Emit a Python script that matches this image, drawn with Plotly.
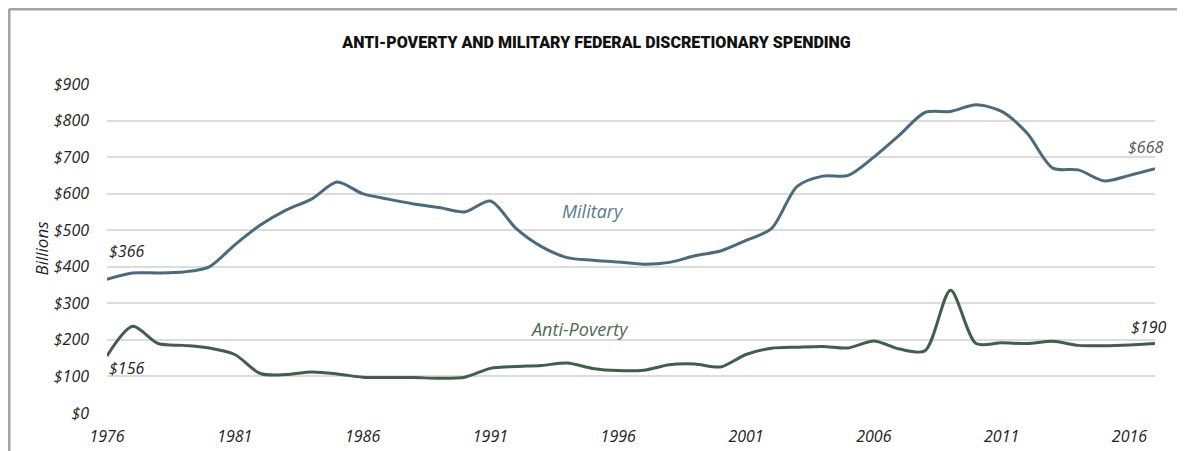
import plotly.graph_objects as go

# Data (billions of dollars)
years = list(range(1976, 2018))
military = [366, 383, 383, 386, 400, 460, 514, 555, 585, 632,
            600, 585, 572, 562, 550, 580, 505, 455, 425, 418,
            413, 407, 412, 430, 443, 472, 505, 620, 648, 650,
            700, 760, 822, 825, 843, 825, 765, 670, 665, 635,
            650, 668]
anti_poverty = [156, 237, 190, 185, 178, 160, 108, 105, 112, 107,
                98, 97, 97, 95, 98, 122, 127, 130, 137, 122,
                116, 117, 132, 134, 126, 160, 177, 180, 182, 178,
                197, 175, 170, 336, 190, 192, 190, 196, 185, 184,
                186, 190]
y_ticks = [0, 100, 200, 300, 400, 500, 600, 700, 800, 900]
x_ticks = [1976, 1981, 1986, 1991, 1996, 2001, 2006, 2011, 2016]

mil_color = "#4b6a7e"
pov_color = "#415f48"
font_fam = "Open Sans"

fig = go.Figure()
fig.add_trace(go.Scatter(x=years, y=military, mode="lines", name="Military",
                         line=dict(color=mil_color, width=3, shape="spline", smoothing=0.8)))
fig.add_trace(go.Scatter(x=years, y=anti_poverty, mode="lines", name="Anti-Poverty",
                         line=dict(color=pov_color, width=3, shape="spline", smoothing=0.8)))

ann_font = dict(family=font_fam, size=16, color="#222", style="italic")
fig.add_annotation(x=years[0], y=443, text="$" + str(military[0]), showarrow=False,
                   xanchor="left", font=ann_font)
fig.add_annotation(x=years[0], y=123, text="$" + str(anti_poverty[0]), showarrow=False,
                   xanchor="left", font=ann_font)
fig.add_annotation(x=years[-1], y=728, text="$" + str(military[-1]), showarrow=False,
                   xanchor="right", xshift=10, font=dict(ann_font, color="#555"))
fig.add_annotation(x=years[-1], y=235, text="$" + str(anti_poverty[-1]), showarrow=False,
                   xanchor="right", xshift=13, font=ann_font)
fig.add_annotation(x=1995, y=552, text="Military", showarrow=False,
                   font=dict(family=font_fam, size=18, color="#5b7a8c", style="italic"))
fig.add_annotation(x=1994.5, y=230, text="Anti-Poverty", showarrow=False,
                   font=dict(family=font_fam, size=18, color="#4e6a55", style="italic"))

# frame lines on top and left of the image
fig.add_shape(type="line", xref="paper", yref="paper", x0=-0.0935, x1=1.05, y0=1.228, y1=1.228,
              line=dict(color="#a3a3a3", width=3))
fig.add_shape(type="line", xref="paper", yref="paper", x0=-0.0935, x1=-0.0935, y0=1.228, y1=-0.2,
              line=dict(color="#a3a3a3", width=3))

fig.update_layout(
    width=1177, height=443,
    margin=dict(l=99, r=30, t=76, b=38, autoexpand=False),
    paper_bgcolor="white", plot_bgcolor="white",
    showlegend=False,
    title=dict(text="ANTI-POVERTY AND MILITARY FEDERAL DISCRETIONARY SPENDING",
               x=0.5, xanchor="center", y=0.923, yanchor="middle",
               font=dict(family="Roboto", size=16, color="#111", weight=900)),
)
fig.update_xaxes(range=[1976, 2017], tickvals=x_ticks, showgrid=False, zeroline=False,
                 showline=False, ticks="", ticklabelstandoff=12, automargin=False,
                 tickfont=dict(family=font_fam, size=16, color="#222", style="italic"))
fig.update_yaxes(range=[0, 900], tickvals=y_ticks, ticktext=["$" + str(v) for v in y_ticks],
                 showgrid=True, gridcolor="#dcdcdc", gridwidth=1.5, zeroline=False,
                 showline=False, ticks="", ticklabelstandoff=17, automargin=False,
                 tickfont=dict(family=font_fam, size=16, color="#222", style="italic"),
                 title=dict(text="Billions", standoff=0,
                            font=dict(family=font_fam, size=17, color="#222", style="italic")))

fig.write_html("out.html")
